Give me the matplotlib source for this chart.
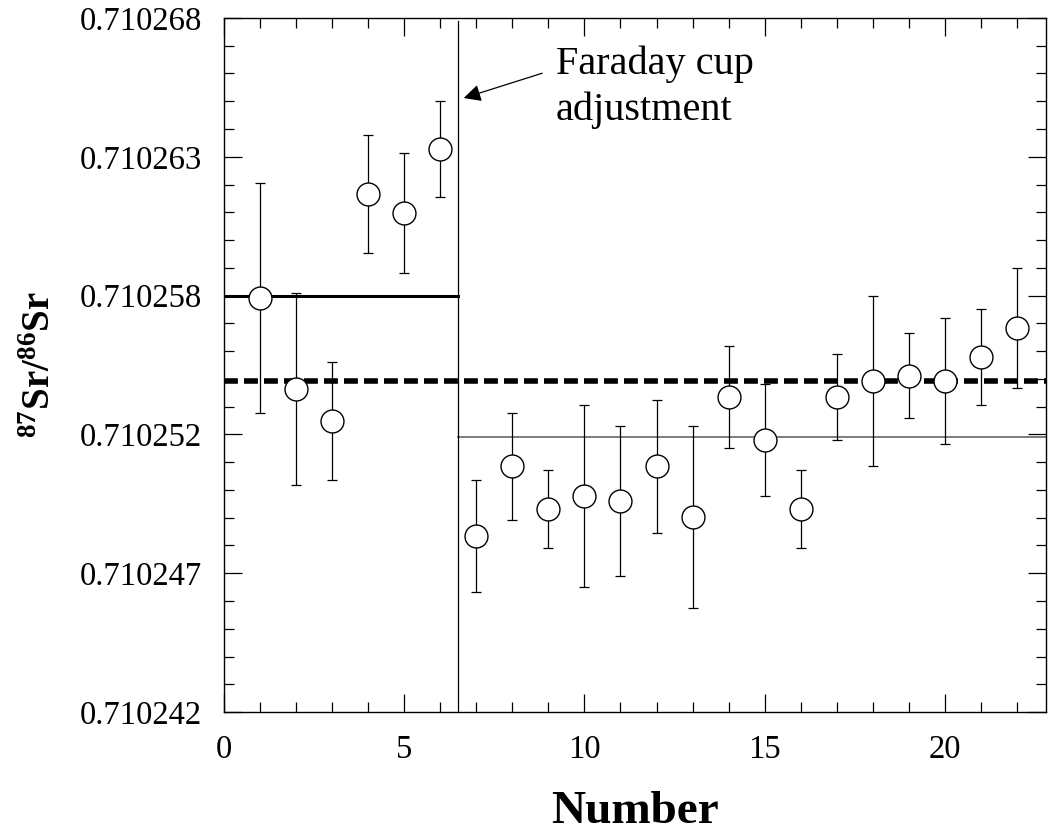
import numpy as np
import matplotlib
matplotlib.use('Agg')
import matplotlib.pyplot as plt
from matplotlib.ticker import FixedLocator, FormatStrFormatter, MultipleLocator

plt.rcParams['font.family'] = ['Liberation Serif', 'DejaVu Serif']
plt.rcParams['mathtext.fontset'] = 'custom'
plt.rcParams['mathtext.rm'] = 'Liberation Serif'
plt.rcParams['mathtext.bf'] = 'Liberation Serif:bold'

# measurement number and 87Sr/86Sr ratio with 2 sigma error
number = np.arange(1, 23)
ratio = [0.7102575, 0.7102541, 0.7102529, 0.7102614, 0.7102607, 0.7102631,
         0.7102486, 0.7102512, 0.7102496, 0.7102501, 0.7102499, 0.7102512,
         0.7102493, 0.7102538, 0.7102522, 0.7102496, 0.7102538, 0.7102544,
         0.7102546, 0.7102544, 0.7102553, 0.7102564]
error = [4.3e-6, 3.6e-6, 2.2e-6, 2.2e-6, 2.25e-6, 1.8e-6, 2.1e-6, 2.0e-6,
         1.45e-6, 3.4e-6, 2.8e-6, 2.5e-6, 3.4e-6, 1.9e-6, 2.1e-6, 1.45e-6,
         1.6e-6, 3.2e-6, 1.6e-6, 2.35e-6, 1.8e-6, 2.25e-6]

mean_before = 0.7102576
mean_after = 0.7102523
mean_all = 0.7102544
adjust_at = 6.5

y_min, y_max = 0.710242, 0.710268
x_max = 22.8

fig = plt.figure(figsize=(10.49, 8.32), dpi=100)
ax = fig.add_axes([0.2135, 0.1442, 0.7835, 0.8342])

ax.axhline(mean_all, color='black', lw=4, ls=(0, (2.5, 1.1)), zorder=2)
ax.plot([0, adjust_at], [mean_before, mean_before], color='black', lw=2.2, zorder=2)
ax.plot([adjust_at, x_max], [mean_after, mean_after], color='#666666', lw=1.2, zorder=2)
ax.plot([adjust_at, adjust_at], [y_min, 0.7102679], color='black', lw=0.9, zorder=2)

ax.errorbar(number, ratio, yerr=error, fmt='none', ecolor='black',
            elinewidth=0.9, capsize=3.6, capthick=0.9, zorder=3)
ax.plot(number, ratio, ls='none', marker='o', markersize=16.5,
        markerfacecolor='white', markeredgecolor='black', markeredgewidth=1.0,
        zorder=4)

ax.annotate('Faraday cup\nadjustment', xy=(6.65, 0.7102650),
            xytext=(9.2, 0.7102654), fontsize=29, ha='left', va='center',
            linespacing=1.3,
            arrowprops=dict(arrowstyle='-|>', color='black', lw=0.9,
                            mutation_scale=26, shrinkA=8, shrinkB=0,
                            relpos=(0, 0.72)))

ax.set_xlim(0, x_max)
ax.set_ylim(y_min, y_max)
ax.xaxis.set_major_locator(MultipleLocator(5))
ax.xaxis.set_minor_locator(MultipleLocator(1))
ax.yaxis.set_major_locator(FixedLocator(np.linspace(y_min, y_max, 6)))
ax.yaxis.set_minor_locator(FixedLocator(np.linspace(y_min, y_max, 26)))
ax.yaxis.set_major_formatter(FormatStrFormatter('%.6f'))

ax.tick_params(which='both', direction='in', top=True, right=True,
               labelsize=23.5, width=0.9, pad=16)
ax.tick_params(which='major', length=13)
ax.tick_params(which='minor', length=7)
for sp in ax.spines.values():
    sp.set_linewidth(1.0)

ax.set_xlabel('Number', fontsize=34, fontweight='bold', labelpad=19)
ax.set_ylabel(r'$\mathbf{^{87}Sr/^{86}Sr}$', fontsize=28, labelpad=15)

fig.savefig('out.png', dpi=100)
